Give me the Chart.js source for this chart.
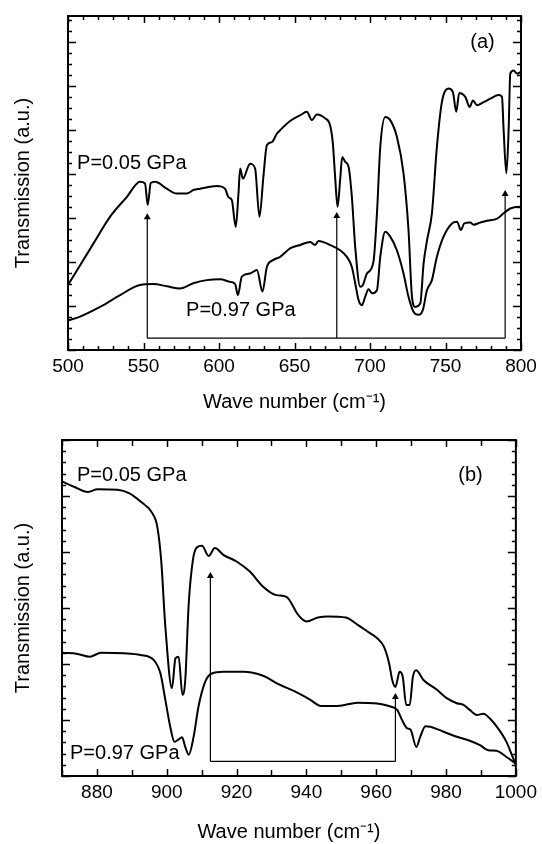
<!DOCTYPE html>
<html>
<head>
<meta charset="utf-8">
<title>Transmission spectra</title>
<script src="https://cdn.jsdelivr.net/npm/chart.js@4.4.0/dist/chart.umd.min.js"></script>
<style>
  body { margin: 0; background: #fff; }
  canvas { position: absolute; left: 0; }
</style>
</head>
<body>
<canvas id="chartA" width="542" height="420" style="top:0"></canvas>
<canvas id="chartB" width="542" height="424" style="top:420px"></canvas>
<script>
// panel (a): 500-800 cm-1
const aHighX = [500, 516.8, 527.8, 538.9, 547.7, 551, 552.8, 554.8, 557.7, 565.4, 572, 578.7, 583, 587.5, 598.5, 604, 606.2, 608.5, 611.1, 612.9, 614, 615.8, 620.6, 623.9, 626.8, 629.4, 631.7, 635, 638.3, 641, 647.1, 653.7, 658.2, 661.5, 664.8, 670.3, 673.6, 675.4, 676.9, 678.5, 680.2, 681.6, 683.6, 685.8, 688, 690.2, 693.5, 695.3, 698, 702.3, 704.6, 706.8, 710.1, 713.4, 717.8, 722.2, 725.5, 727.8, 730, 733.3, 735.5, 737.8, 741, 744.3, 747.6, 752, 754.9, 757.1, 759.1, 763.1, 766, 768.2, 770.8, 775.2, 779.7, 785.2, 787.4, 788.5, 790.3, 791.8, 792.9, 795.1, 797.3, 800];
const aHighY = [1.48, 2.42, 3.03, 3.48, 3.83, 3.79, 3.30, 3.80, 3.83, 3.67, 3.56, 3.56, 3.64, 3.67, 3.73, 3.67, 3.48, 3.41, 2.80, 3.56, 4.13, 3.90, 4.24, 4.13, 3.03, 3.94, 4.66, 4.73, 4.92, 5.02, 5.21, 5.34, 5.42, 5.23, 5.36, 5.27, 5.11, 4.70, 3.94, 3.26, 3.86, 4.39, 4.28, 4.17, 3.48, 2.35, 1.44, 1.48, 1.74, 2.01, 3.11, 4.62, 5.30, 5.23, 4.85, 4.02, 2.73, 1.21, 0.98, 1.06, 1.97, 2.5, 3.11, 4.62, 5.64, 5.95, 5.87, 5.42, 5.85, 5.76, 5.53, 5.68, 5.57, 5.64, 5.72, 5.80, 5.76, 5.0, 4.02, 5.0, 6.29, 6.36, 6.29, 6.33];
const aLowX = [500, 508, 521.2, 534.5, 547.7, 556.5, 565.4, 574.2, 583, 591.9, 600.7, 607.4, 610.7, 612.5, 615.1, 620.6, 625.1, 628.8, 631.7, 636.1, 640.5, 647.1, 653.7, 660.4, 663.6, 665.9, 673.6, 680.2, 684.7, 688, 690.2, 692.4, 694.6, 696.8, 699, 701.3, 704.6, 706.8, 710.1, 713.4, 717.8, 722.2, 725.5, 728.8, 732.1, 735, 737.7, 741, 744.3, 748.7, 754.3, 757.6, 760.2, 762.4, 766.4, 768.6, 773, 777.5, 784.1, 788.5, 792.9, 798.4, 800];
const aLowY = [0.67, 0.76, 0.98, 1.25, 1.48, 1.50, 1.45, 1.40, 1.52, 1.59, 1.61, 1.55, 1.50, 1.25, 1.67, 1.74, 1.82, 1.33, 1.89, 2.05, 2.12, 2.31, 2.39, 2.46, 2.39, 2.48, 2.39, 2.27, 2.12, 1.89, 1.52, 1.14, 1.02, 1.21, 1.38, 1.29, 1.36, 2.12, 2.69, 2.58, 2.27, 1.74, 1.21, 0.87, 0.80, 0.91, 1.36, 1.59, 2.12, 2.58, 2.88, 2.92, 2.73, 2.88, 2.90, 2.85, 2.90, 2.94, 2.99, 3.11, 3.22, 3.26, 3.25];
const aArrowX = [552.5, 678, 789.5];
const aArrowTip = [3.02, 3.05, 3.55];
const aArrowBase = 0.27;
const aTicks = [500, 550, 600, 650, 700, 750, 800];

// panel (b): 870-1000 cm-1
const bHighX = [870, 873.6, 877.4, 880.2, 885.9, 889.2, 892.5, 895.9, 897.3, 898.4, 899.6, 901.5, 902.5, 903.4, 904.5, 905.3, 906.3, 907.5, 908.6, 910.1, 912, 913.8, 916.2, 920, 923.8, 927.6, 931.4, 934.3, 937.6, 940, 943.3, 946.1, 951.3, 954.7, 957.5, 960.3, 962.2, 963.7, 964.6, 965.5, 966.7, 967.6, 968.6, 969.6, 970.5, 971.4, 973.6, 977.4, 980.2, 983.1, 985, 986.8, 988.8, 990.7, 992.5, 994.9, 997.3, 998.7, 1000];
const bHighY = [5.26, 5.16, 5.07, 5.12, 5.11, 5.05, 4.90, 4.69, 4.45, 3.86, 2.67, 1.57, 2.10, 2.13, 1.45, 1.71, 3.08, 3.86, 4.08, 4.11, 3.93, 4.07, 3.95, 3.83, 3.65, 3.38, 3.23, 3.20, 2.88, 2.76, 2.83, 2.85, 2.83, 2.70, 2.58, 2.46, 2.31, 2.01, 1.71, 1.59, 1.86, 1.77, 1.27, 1.27, 1.77, 1.89, 1.71, 1.54, 1.39, 1.30, 1.27, 1.18, 1.09, 1.11, 1.03, 0.85, 0.61, 0.40, 0.2];
const bLowX = [870, 874.5, 877.9, 881.2, 887.8, 892.5, 896.3, 898.2, 899.6, 901, 902.2, 903.1, 904.4, 905.3, 906.3, 907.7, 909.1, 911, 912.9, 916.2, 921.9, 927.6, 932, 936.7, 940.9, 944.2, 949, 954.7, 959.4, 964.1, 966, 967.4, 968.9, 969.8, 971.5, 972.6, 974.1, 975.5, 979.3, 983.1, 986.8, 989.7, 992.1, 994.4, 997.3, 1000];
const bLowY = [2.20, 2.18, 2.13, 2.20, 2.19, 2.16, 2.07, 1.83, 1.36, 0.88, 0.61, 0.64, 0.69, 0.52, 0.38, 0.70, 1.24, 1.68, 1.83, 1.86, 1.86, 1.79, 1.64, 1.51, 1.37, 1.25, 1.25, 1.31, 1.30, 1.24, 1.18, 1.0, 0.85, 0.83, 0.52, 0.70, 0.89, 0.88, 0.79, 0.70, 0.63, 0.55, 0.46, 0.45, 0.34, 0.22];
const bArrowX = [912.5, 965.5];
const bArrowTip = [3.57, 1.41];
const bArrowBase = 0.26;
const bTicks = [880, 900, 920, 940, 960, 980, 1000];

const FONT = '"Liberation Sans", Arial, Helvetica, sans-serif';

function zip(xs, ys) {
  return xs.map((x, i) => ({ x: x, y: ys[i] }));
}

function eachTick(min, max, step, major, fn) {
  const start = Math.ceil(min / step - 1e-9) * step;
  for (let v = start; v <= max + 1e-9; v += step) {
    const r = v / major;
    fn(v, Math.abs(r - Math.round(r)) < 1e-6);
  }
}

// box frame, inward ticks on all four sides, and the in-plot labels
function makeFrame(cfg) {
  return {
    id: 'frame',
    afterDatasetsDraw(chart) {
      const { ctx, chartArea: a, scales: { x, y } } = chart;
      ctx.save();
      ctx.strokeStyle = '#000';
      ctx.lineWidth = 1.5;
      ctx.beginPath();
      eachTick(x.min, x.max, cfg.xMinor, cfg.xMajor, (v, major) => {
        const px = Math.round(x.getPixelForValue(v)) + 0.5;
        const len = major ? 7 : cfg.xMinorLen;
        ctx.moveTo(px, a.bottom); ctx.lineTo(px, a.bottom - len);
        ctx.moveTo(px, a.top); ctx.lineTo(px, a.top + len);
      });
      eachTick(y.min, y.max, cfg.yMinor, cfg.yMajor, (v, major) => {
        const py = Math.round(y.getPixelForValue(v)) + 0.5;
        const len = major ? 8 : 4;
        ctx.moveTo(a.left, py); ctx.lineTo(a.left + len, py);
        ctx.moveTo(a.right, py); ctx.lineTo(a.right - len, py);
      });
      ctx.stroke();
      ctx.lineWidth = 2;
      ctx.strokeRect(a.left, a.top, a.right - a.left, a.bottom - a.top);

      ctx.fillStyle = '#000';
      ctx.font = '20px ' + FONT;
      ctx.textBaseline = 'middle';
      cfg.labels.forEach(l => {
        ctx.textAlign = l.align;
        ctx.fillText(l.text, x.getPixelForValue(l.x), y.getPixelForValue(l.y));
      });
      ctx.restore();
    }
  };
}

function makePanel(canvasId, p) {
  const curve = data => ({
    data: data,
    borderColor: '#000',
    borderWidth: 2,
    pointRadius: 0,
    cubicInterpolationMode: 'monotone',
    borderJoinStyle: 'round',
    fill: false
  });
  const datasets = [curve(zip(p.highX, p.highY)), curve(zip(p.lowX, p.lowY))];
  p.arrowX.forEach((ax, i) => {
    datasets.push({
      data: [{ x: ax, y: p.arrowBase }, { x: ax, y: p.arrowTip[i] }],
      borderColor: '#000',
      backgroundColor: '#000',
      borderWidth: 1.2,
      pointStyle: 'triangle',
      pointRadius: [0, 4],
      pointBorderWidth: 0,
      fill: false
    });
  });
  datasets.push({
    data: [{ x: p.arrowX[0], y: p.arrowBase }, { x: p.arrowX[p.arrowX.length - 1], y: p.arrowBase }],
    borderColor: '#000',
    borderWidth: 1.2,
    pointRadius: 0,
    fill: false
  });

  return new Chart(document.getElementById(canvasId), {
    type: 'line',
    data: { datasets: datasets },
    plugins: [makeFrame(p.frame)],
    options: {
      responsive: false,
      animation: false,
      devicePixelRatio: 1,
      layout: { padding: { top: p.padTop, right: p.padRight, left: 0, bottom: 0 } },
      plugins: { legend: { display: false }, tooltip: { enabled: false } },
      scales: {
        x: {
          type: 'linear',
          min: p.xMin,
          max: p.xMax,
          afterBuildTicks: axis => { axis.ticks = p.ticks.map(v => ({ value: v })); },
          ticks: {
            callback: v => String(v),
            color: '#000',
            font: { family: FONT, size: 19 },
            padding: 5,
            maxRotation: 0,
            autoSkip: false
          },
          grid: { display: false, drawTicks: false },
          border: { display: false },
          title: {
            display: true,
            text: 'Wave number (cm\u207B\u00B9)',
            color: '#000',
            font: { family: FONT, size: 20 },
            padding: { top: 0, bottom: p.titlePad }
          },
          afterFit: axis => { axis.height = p.xAxisHeight; }
        },
        y: {
          type: 'linear',
          min: 0,
          max: p.yMax,
          ticks: { display: false },
          grid: { display: false, drawTicks: false },
          border: { display: false },
          title: {
            display: true,
            text: 'Transmission (a.u.)',
            color: '#000',
            font: { family: FONT, size: 20 },
            padding: { top: 11, bottom: 0 }
          },
          afterFit: axis => { axis.width = p.yAxisWidth; }
        }
      }
    }
  });
}

makePanel('chartA', {
  highX: aHighX, highY: aHighY, lowX: aLowX, lowY: aLowY,
  arrowX: aArrowX, arrowTip: aArrowTip, arrowBase: aArrowBase,
  ticks: aTicks, xMin: 500, xMax: 800, yMax: 7.6,
  padTop: 16, padRight: 21, xAxisHeight: 70, yAxisWidth: 68, titlePad: 6,
  frame: {
    xMinor: 10, xMajor: 50, xMinorLen: 4, yMinor: 0.25, yMajor: 1,
    labels: [
      { text: 'P=0.05 GPa', x: 506, y: 4.25, align: 'left' },
      { text: 'P=0.97 GPa', x: 578.2, y: 0.91, align: 'left' },
      { text: '(a)', x: 774.5, y: 7.0, align: 'center' }
    ]
  }
});

makePanel('chartB', {
  highX: bHighX, highY: bHighY, lowX: bLowX, lowY: bLowY,
  arrowX: bArrowX, arrowTip: bArrowTip, arrowBase: bArrowBase,
  ticks: bTicks, xMin: 870, xMax: 1000, yMax: 6,
  padTop: 20, padRight: 23, xAxisHeight: 68, yAxisWidth: 62, titlePad: 0,
  frame: {
    xMinor: 10, xMajor: 20, xMinorLen: 6, yMinor: 0.2, yMajor: 1,
    labels: [
      { text: 'P=0.05 GPa', x: 874.3, y: 5.375, align: 'left' },
      { text: 'P=0.97 GPa', x: 872.3, y: 0.41, align: 'left' },
      { text: '(b)', x: 987, y: 5.375, align: 'center' }
    ]
  }
});
</script>
</body>
</html>
